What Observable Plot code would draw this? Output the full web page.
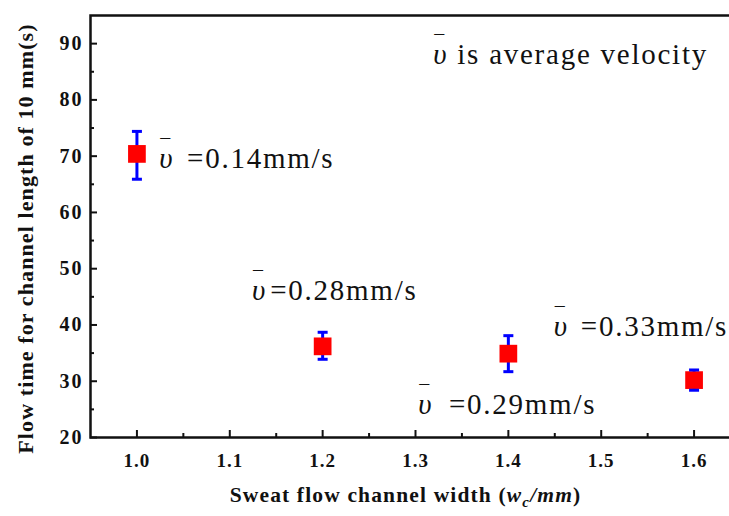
<!DOCTYPE html>
<html>
<head>
<meta charset="utf-8">
<script src="https://cdn.jsdelivr.net/npm/d3@7"></script>
<script src="https://cdn.jsdelivr.net/npm/@observablehq/plot@0.6"></script>
<style>
  html, body { margin: 0; padding: 0; background: white; overflow: hidden; }
  #wrap { position: relative; width: 729px; height: 516px; overflow: hidden; background: white; }
  #wrap svg { max-width: none !important; height: 480px !important; width: 750px !important; display: block; }
  #wrap svg text { font-family: "Liberation Serif", "Times New Roman", serif; }
  #xtitle { position: absolute; top: 483px; left: 0; width: 811px; text-align: center;
    font-family: "Liberation Serif", "Times New Roman", serif; font-weight: bold; font-size: 21.5px; letter-spacing: 1.15px; color: #111; }
  #xtitle sub { font-size: 15px; }
  g[aria-label="y-axis tick label"] text { letter-spacing: 2px; }
  g[aria-label="x-axis tick label"] text { letter-spacing: 1px; }
  g[aria-label="text"] text { letter-spacing: 1.75px; }
  g[aria-label="text"] text.ytitle { letter-spacing: 1.1px; }
</style>
</head>
<body>
<div id="wrap"><div id="xtitle">Sweat flow channel width (<i>w<sub>c</sub>/mm</i>)</div></div>
<script>
// data
const widths = [1.0, 1.2, 1.4, 1.6];
const flowTimes = [70.4, 36.2, 34.9, 30.2];
const errLow = [65.9, 33.9, 31.7, 28.4];
const errHigh = [74.4, 38.7, 38.1, 32.0];

// annotations (data coordinates)
const annLabels = ["=0.14mm/s", "=0.28mm/s", "=0.29mm/s", "=0.33mm/s", "is average velocity"];
const annX = [1.054, 1.1435, 1.336, 1.478, 1.345];
const annY = [69.6, 46.1, 25.9, 39.7, 88.0];
const upsX = [1.024, 1.124, 1.303, 1.449, 1.319];

const yTicks = [20, 30, 40, 50, 60, 70, 80, 90];
const yMinor = [25, 35, 45, 55, 65, 75, 85];
const xTicks = [1.0, 1.1, 1.2, 1.3, 1.4, 1.5, 1.6];
const xMinor = [1.05, 1.15, 1.25, 1.35, 1.45, 1.55];
const yTitle = "Flow time for channel length of 10 mm(s)";

const points = widths.map((w, i) => ({x: w, y: flowTimes[i], lo: errLow[i], hi: errHigh[i]}));
const anns = annLabels.map((t, i) => ({label: t, x: annX[i], y: annY[i], ux: upsX[i]}));

const capSymbol = {
  draw(ctx, size) {
    const r = Math.sqrt(size / Math.PI);
    ctx.moveTo(-r, 0);
    ctx.lineTo(r, 0);
  }
};

const serif = "Liberation Serif";

const chart = Plot.plot({
  width: 750,
  height: 480,
  marginLeft: 90,
  marginTop: 15,
  marginBottom: 43,
  marginRight: 10,
  style: {background: "white", color: "#111"},
  x: {domain: [0.95, 1.65], label: null},
  y: {domain: [20, 95], label: null},
  marks: [
    Plot.axisY({ticks: yTicks, tickSize: 0, tickPadding: 7, fontSize: 20, fontWeight: "bold", fontFamily: serif, label: null}),
    Plot.axisY({ticks: yTicks, tickSize: 7, dx: 7, text: null, strokeWidth: 2, label: null}),
    Plot.axisY({ticks: yMinor, tickSize: 4, dx: 4, text: null, strokeWidth: 2, label: null}),
    Plot.axisX({ticks: xTicks, tickFormat: d3.format(".1f"), tickSize: 0, tickPadding: 16, fontSize: 19, fontWeight: "bold", fontFamily: serif, label: null}),
    Plot.axisX({ticks: xTicks, tickSize: 7, dy: -7, text: null, strokeWidth: 2, label: null}),
    Plot.axisX({ticks: xMinor, tickSize: 4, dy: -4, text: null, strokeWidth: 2, label: null}),
    Plot.frame({stroke: "#111", strokeWidth: 2.5}),
    Plot.ruleX(points, {x: "x", y1: "lo", y2: "hi", stroke: "#0000ff", strokeWidth: 3}),
    Plot.dot(points, {x: "x", y: "y", symbol: "square", r: 10, fill: "#ff0000", stroke: null}),
    Plot.dot(points, {x: "x", y: "lo", symbol: capSymbol, r: 5, stroke: "#0000ff", strokeWidth: 3}),
    Plot.dot(points, {x: "x", y: "hi", symbol: capSymbol, r: 5, stroke: "#0000ff", strokeWidth: 3}),
    Plot.text(anns, {x: "ux", y: "y", text: () => "\u03C5", fontSize: 29, fontStyle: "italic", fontFamily: serif, textAnchor: "start", fill: "#111"}),
    Plot.text(anns, {x: "ux", y: "y", text: () => "\u2012", fontSize: 20, dx: 1, dy: -21, fontFamily: serif, textAnchor: "start", fill: "#111"}),
    Plot.text(anns, {x: "x", y: "y", text: "label", fontSize: 29, fontFamily: serif, textAnchor: "start", fill: "#111"}),
    Plot.text([yTitle], {frameAnchor: "left", textAnchor: "middle", dx: -65, dy: 12, rotate: -90, fontSize: 22, fontWeight: "bold", fontFamily: serif, fill: "#111"})
  ]
});
document.getElementById("wrap").prepend(chart);
// mark the rotated title so it gets its own letter spacing
d3.select(chart).selectAll('g[aria-label="text"] text').filter(function () { return this.textContent === yTitle; }).classed("ytitle", true);
</script>
</body>
</html>
